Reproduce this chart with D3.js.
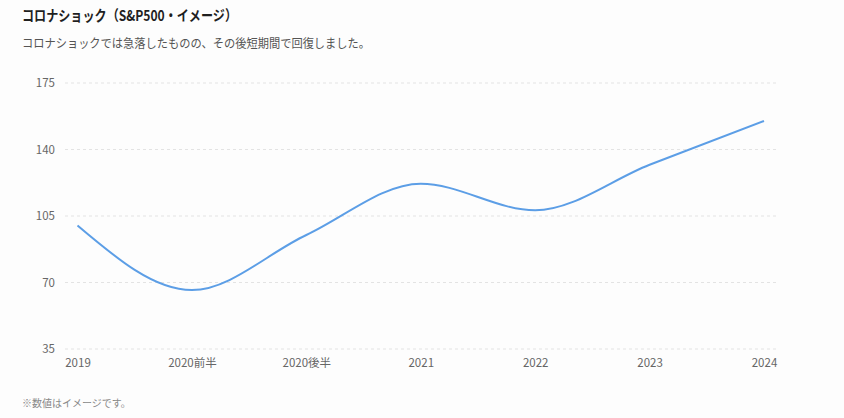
<!DOCTYPE html>
<html>
<head>
<meta charset="utf-8">
<script src="https://cdn.jsdelivr.net/npm/d3@7"></script>
<style>
  html, body { margin: 0; padding: 0; background: #fdfdfd; }
  svg { display: block; }
</style>
</head>
<body>
<svg id="chart" width="844" height="418"></svg>
<script>
// data
const periods = ["2019", "2020前半", "2020後半", "2021", "2022", "2023", "2024"];
const values = [100, 66, 95, 122, 108, 132, 155];
const yTicks = [35, 70, 105, 140, 175];

const font = `"Noto Sans CJK JP", "Noto Sans", sans-serif`;
const svg = d3.select("#chart");

const x = d3.scalePoint().domain(periods).range([77.5, 764]);
const y = d3.scaleLinear().domain([35, 175]).range([349, 83]);

// title + subtitle (squeezed a bit to match the narrower original font)
svg.append("text")
  .attr("x", 22).attr("y", 20.5)
  .attr("textLength", 215)
  .attr("lengthAdjust", "spacingAndGlyphs")
  .style("font", `bold 14.5px ${font}`)
  .style("fill", "#1f1f1f")
  .text("コロナショック（S&P500・イメージ）");

svg.append("text")
  .attr("x", 22).attr("y", 47.5)
  .attr("textLength", 348)
  .attr("lengthAdjust", "spacingAndGlyphs")
  .style("font", `12.5px ${font}`)
  .style("fill", "#555")
  .text("コロナショックでは急落したものの、その後短期間で回復しました。");

// gridlines
svg.append("g").selectAll("line")
  .data(yTicks)
  .join("line")
  .attr("x1", 65).attr("x2", 776)
  .attr("y1", d => y(d)).attr("y2", d => y(d))
  .attr("stroke", "#e3e3e3")
  .attr("stroke-dasharray", "3,3");

// y axis labels
const yAxis = svg.append("g")
  .attr("transform", "translate(55,0)")
  .call(d3.axisLeft(y).tickValues(yTicks).tickSize(0).tickPadding(0));
yAxis.select(".domain").remove();
yAxis.selectAll("text")
  .style("font", `11.5px ${font}`)
  .style("fill", "#666");

// x axis labels
const xAxis = svg.append("g")
  .attr("transform", "translate(0,359)")
  .call(d3.axisBottom(x).tickSize(0).tickPadding(0));
xAxis.select(".domain").remove();
xAxis.selectAll("text")
  .style("font", `11.5px ${font}`)
  .style("fill", "#666");

// line
const line = d3.line()
  .x((d, i) => x(periods[i]))
  .y(d => y(d))
  .curve(d3.curveMonotoneX);

svg.append("path")
  .datum(values)
  .attr("d", line)
  .attr("fill", "none")
  .attr("stroke", "#5c9ee6")
  .attr("stroke-width", 2);

// footnote
svg.append("text")
  .attr("x", 22).attr("y", 406.5)
  .style("font", `10px ${font}`)
  .style("fill", "#888")
  .text("※数値はイメージです。");
</script>
</body>
</html>
